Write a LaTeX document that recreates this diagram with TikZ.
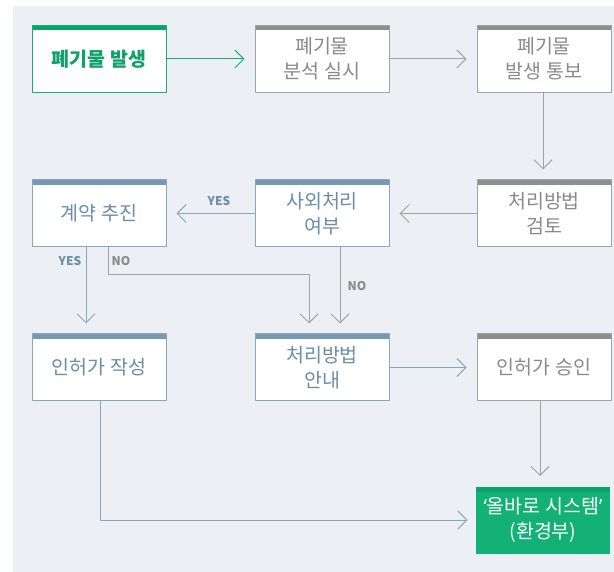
\documentclass[tikz,border=0pt]{standalone}
\usepackage{fontspec}
\setmainfont{Noto Sans CJK KR}
\newfontfamily\latinfont{Noto Sans}
\usetikzlibrary{arrows.meta}
\definecolor{bgcol}{HTML}{ECEFF4}
\definecolor{grnfill}{HTML}{13B176}
\definecolor{grnbar}{HTML}{06A667}
\definecolor{grnline}{HTML}{1AAE76}
\definecolor{grntxt}{HTML}{12A06A}
\definecolor{gryline}{HTML}{A2A2A2}
\definecolor{grybar}{HTML}{8E8E8E}
\definecolor{grytxt}{HTML}{8A8A8A}
\definecolor{bluline}{HTML}{86A7BF}
\definecolor{blubar}{HTML}{7799B2}
\definecolor{blutxt}{HTML}{6A8DA8}
\newcommand{\qL}{{\latinfont ‘}}
\newcommand{\qR}{{\latinfont ’}}
\begin{document}
\begin{tikzpicture}[x=1pt, y=-1pt, line join=round, font=\fontsize{19.5}{25}\selectfont, >={Straight Barb[length=9pt,width=18pt]}]
			\tikzset{flowbox/.style={rectangle, fill=white, line width=1pt, minimum width=134pt, minimum height=67pt, align=center, inner sep=0pt},
				topbar/.style={path picture={\fill[#1] (path picture bounding box.north west) rectangle ([yshift=-5pt]path picture bounding box.north east);}},
				greenbox/.style={flowbox, draw=grnline, text=grntxt, font=\fontsize{19.5}{25}\selectfont\bfseries, topbar=grnbar},
				graybox/.style={flowbox, draw=gryline, text=grytxt, topbar=grybar},
				bluebox/.style={flowbox, draw=bluline, text=blutxt, topbar=blubar},
				endbox/.style={flowbox, fill=grnfill, text=white, topbar=grnbar},
				yesno/.style={font=\fontsize{12}{14}\selectfont\bfseries, inner sep=0pt},
				conn/.style={->, line width=1pt, shorten >=10pt}}
			\useasboundingbox (0,0) rectangle (614,572);
			\fill[bgcol] (13,6) rectangle (614,572);
			% first row
			\node[greenbox] (balsaeng) at (99,59) {폐기물 발생};
			\node[graybox] (bunseok) at (322,59) {폐기물\\분석 실시};
			\node[graybox] (tongbo) at (544,59) {폐기물\\발생 통보};
			% second row
			\node[bluebox] (gyeyak) at (99,213.5) {계약 추진};
			\node[bluebox] (yeobu) at (322,213.5) {사외처리\\여부};
			\node[graybox] (geomto) at (544,213.5) {처리방법\\검토};
			% third row
			\node[bluebox] (jakseong) at (99,367.5) {인허가 작성};
			\node[bluebox] (annae) at (322,367.5) {처리방법\\안내};
			\node[graybox] (seungin) at (544,367.5) {인허가 승인};
			\node[endbox] (allbaro) at (543,520) {\qL 올바로 시스템\qR\\(환경부)};
			% connectors
			\draw[conn, grnline] (balsaeng) -- (bunseok);
			\draw[conn, gryline] ([xshift=-1pt]tongbo.south) -- ([xshift=-1pt]geomto.north);
			\draw[conn, gryline] (bunseok) -- (tongbo);
			\draw[conn, gryline] (geomto) -- (yeobu);
			\draw[conn, bluline] (yeobu) -- (gyeyak);
			\draw[conn, bluline] ([xshift=-13pt]gyeyak.south) -- ([xshift=-13pt]jakseong.north);
			\draw[conn, gryline] ([xshift=9pt]gyeyak.south) -- ++(0,27) -| ([xshift=-13pt]annae.north);
			\draw[conn, gryline] ([xshift=18pt]yeobu.south) -- ([xshift=18pt]annae.north);
			\draw[conn, bluline] (annae) -- (seungin);
			\draw[conn, gryline] ([xshift=-4pt]seungin.south) -- ([xshift=-4pt]seungin.south |- allbaro.north);
			\draw[conn, shorten >=8pt, bluline] ([xshift=1pt]jakseong.south) |- (allbaro.west);
			% labels
			\node[yesno, text=blutxt] (yes1) at (219,201) {YES};
			\node[yesno, text=blutxt] (yes2) at (70,261) {YES};
			\node[yesno, text=grytxt] (no1) at (121,261) {NO};
			\node[yesno, text=grytxt] (no2) at (357,286) {NO};
		\end{tikzpicture}
\end{document}
